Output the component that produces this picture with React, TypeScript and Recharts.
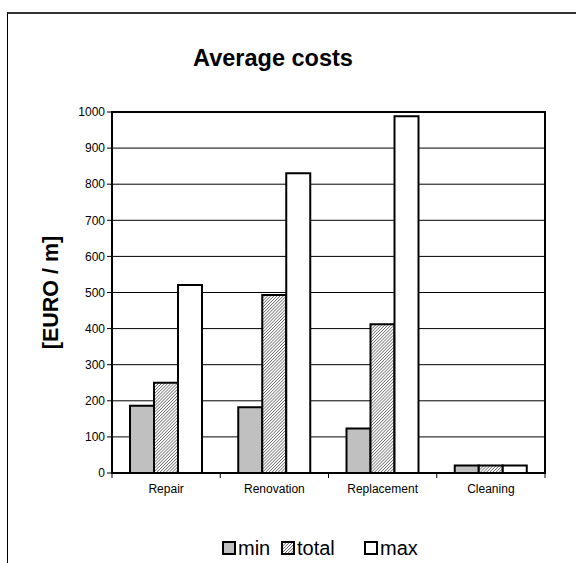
import React from 'react';
import { BarChart, Bar, XAxis, YAxis, CartesianGrid, ReferenceArea } from 'recharts';

const categories = ['Repair', 'Renovation', 'Replacement', 'Cleaning'];
const minValues = [186, 182, 123, 21];
const totalValues = [250, 493, 412, 21];
const maxValues = [521, 830, 988, 21];
const yTicks = [0, 100, 200, 300, 400, 500, 600, 700, 800, 900, 1000];
const seriesNames = ['min', 'total', 'max'];

const data = categories.map((name, i) => ({
  name,
  min: minValues[i],
  total: totalValues[i],
  max: maxValues[i],
}));

const FONT = '"Liberation Sans", Arial, sans-serif';
const BAND = (545 - 112) / 4;

const XTick = (props: any) => {
  const { x, y, payload, index } = props;
  return (
    <g>
      <line x1={x - BAND / 2} y1={y - 8} x2={x - BAND / 2} y2={y - 3} stroke="#000" strokeWidth={1} />
      {index === categories.length - 1 && (
        <line x1={x + BAND / 2} y1={y - 8} x2={x + BAND / 2} y2={y - 3} stroke="#000" strokeWidth={1} />
      )}
      <text x={x} y={y + 12} textAnchor="middle" fontFamily={FONT} fontSize={12} fill="#000">
        {payload.value}
      </text>
    </g>
  );
};

const HatchPattern = ({ id }: { id: string }) => (
  <pattern id={id} patternUnits="userSpaceOnUse" width={2.2} height={2.2} patternTransform="rotate(45)">
    <rect width={2.2} height={2.2} fill="#fff" />
    <line x1={0} y1={0} x2={0} y2={2.2} stroke="#333" strokeWidth={1.1} />
  </pattern>
);

const LegendSwatch = ({ kind }: { kind: string }) => (
  <svg width={14} height={14} style={{ display: 'block' }}>
    <defs>
      <HatchPattern id={'lg' + kind} />
    </defs>
    <rect
      x={1}
      y={1}
      width={12}
      height={12}
      stroke="#000"
      strokeWidth={2}
      fill={kind === 'min' ? '#c0c0c0' : kind === 'total' ? 'url(#lg' + kind + ')' : '#fff'}
    />
  </svg>
);

export default function App() {
  const legendX = [222, 281, 364];
  return (
    <div style={{ position: 'absolute', left: 0, top: 0, width: 576, height: 563, overflow: 'hidden', background: '#fff' }}>
      <div
        style={{
          position: 'absolute',
          left: 7,
          top: 12,
          width: 700,
          height: 700,
          borderTop: '2px solid #333',
          borderLeft: '1px solid #000',
        }}
      />
      <div
        style={{
          position: 'absolute',
          left: 273,
          top: 44,
          transform: 'translateX(-50%)',
          whiteSpace: 'nowrap',
          fontFamily: FONT,
          fontWeight: 'bold',
          fontSize: 23.5,
          lineHeight: '28px',
        }}
      >
        Average costs
      </div>
      <div style={{ position: 'absolute', left: 0, top: 0 }}>
        <BarChart
          width={576}
          height={563}
          data={data}
          margin={{ top: 112, right: 31, bottom: 60, left: 52 }}
          barCategoryGap={18}
          barGap={0}
        >
          <defs>
            <HatchPattern id="hatch" />
          </defs>
          <CartesianGrid horizontal vertical={false} stroke="#000" strokeWidth={1} />
          <XAxis
            dataKey="name"
            height={30}
            axisLine={{ stroke: '#000', strokeWidth: 2 }}
            tickLine={false}
            tick={<XTick />}
            interval={0}
          />
          <YAxis
            width={60}
            domain={[0, 1000]}
            ticks={yTicks}
            interval={0}
            axisLine={{ stroke: '#000', strokeWidth: 2 }}
            tickLine={{ stroke: '#000' }}
            tickSize={5}
            tickMargin={2}
            tick={{ fontFamily: FONT, fontSize: 12, fill: '#000' }}
            label={{
              value: '[EURO / m]',
              angle: -90,
              position: 'insideLeft',
              offset: -2,
              style: { fontFamily: FONT, fontWeight: 'bold', fontSize: 21.5, fill: '#000', textAnchor: 'middle' },
            }}
          />
          <ReferenceArea y1={0} y2={1000} fill="none" stroke="#000" strokeWidth={2} ifOverflow="visible" />
          <Bar dataKey="min" name={seriesNames[0]} fill="#c0c0c0" stroke="#000" strokeWidth={2} isAnimationActive={false} />
          <Bar dataKey="total" name={seriesNames[1]} fill="url(#hatch)" stroke="#000" strokeWidth={2} isAnimationActive={false} />
          <Bar dataKey="max" name={seriesNames[2]} fill="#fff" stroke="#000" strokeWidth={2} isAnimationActive={false} />
        </BarChart>
      </div>
      {seriesNames.map((s, i) => (
        <div
          key={s}
          style={{
            position: 'absolute',
            left: legendX[i],
            top: 537,
            display: 'flex',
            alignItems: 'center',
            fontFamily: FONT,
            fontSize: 20,
            lineHeight: '22px',
          }}
        >
          <LegendSwatch kind={s} />
          <span style={{ marginLeft: 2 }}>{s}</span>
        </div>
      ))}
    </div>
  );
}
